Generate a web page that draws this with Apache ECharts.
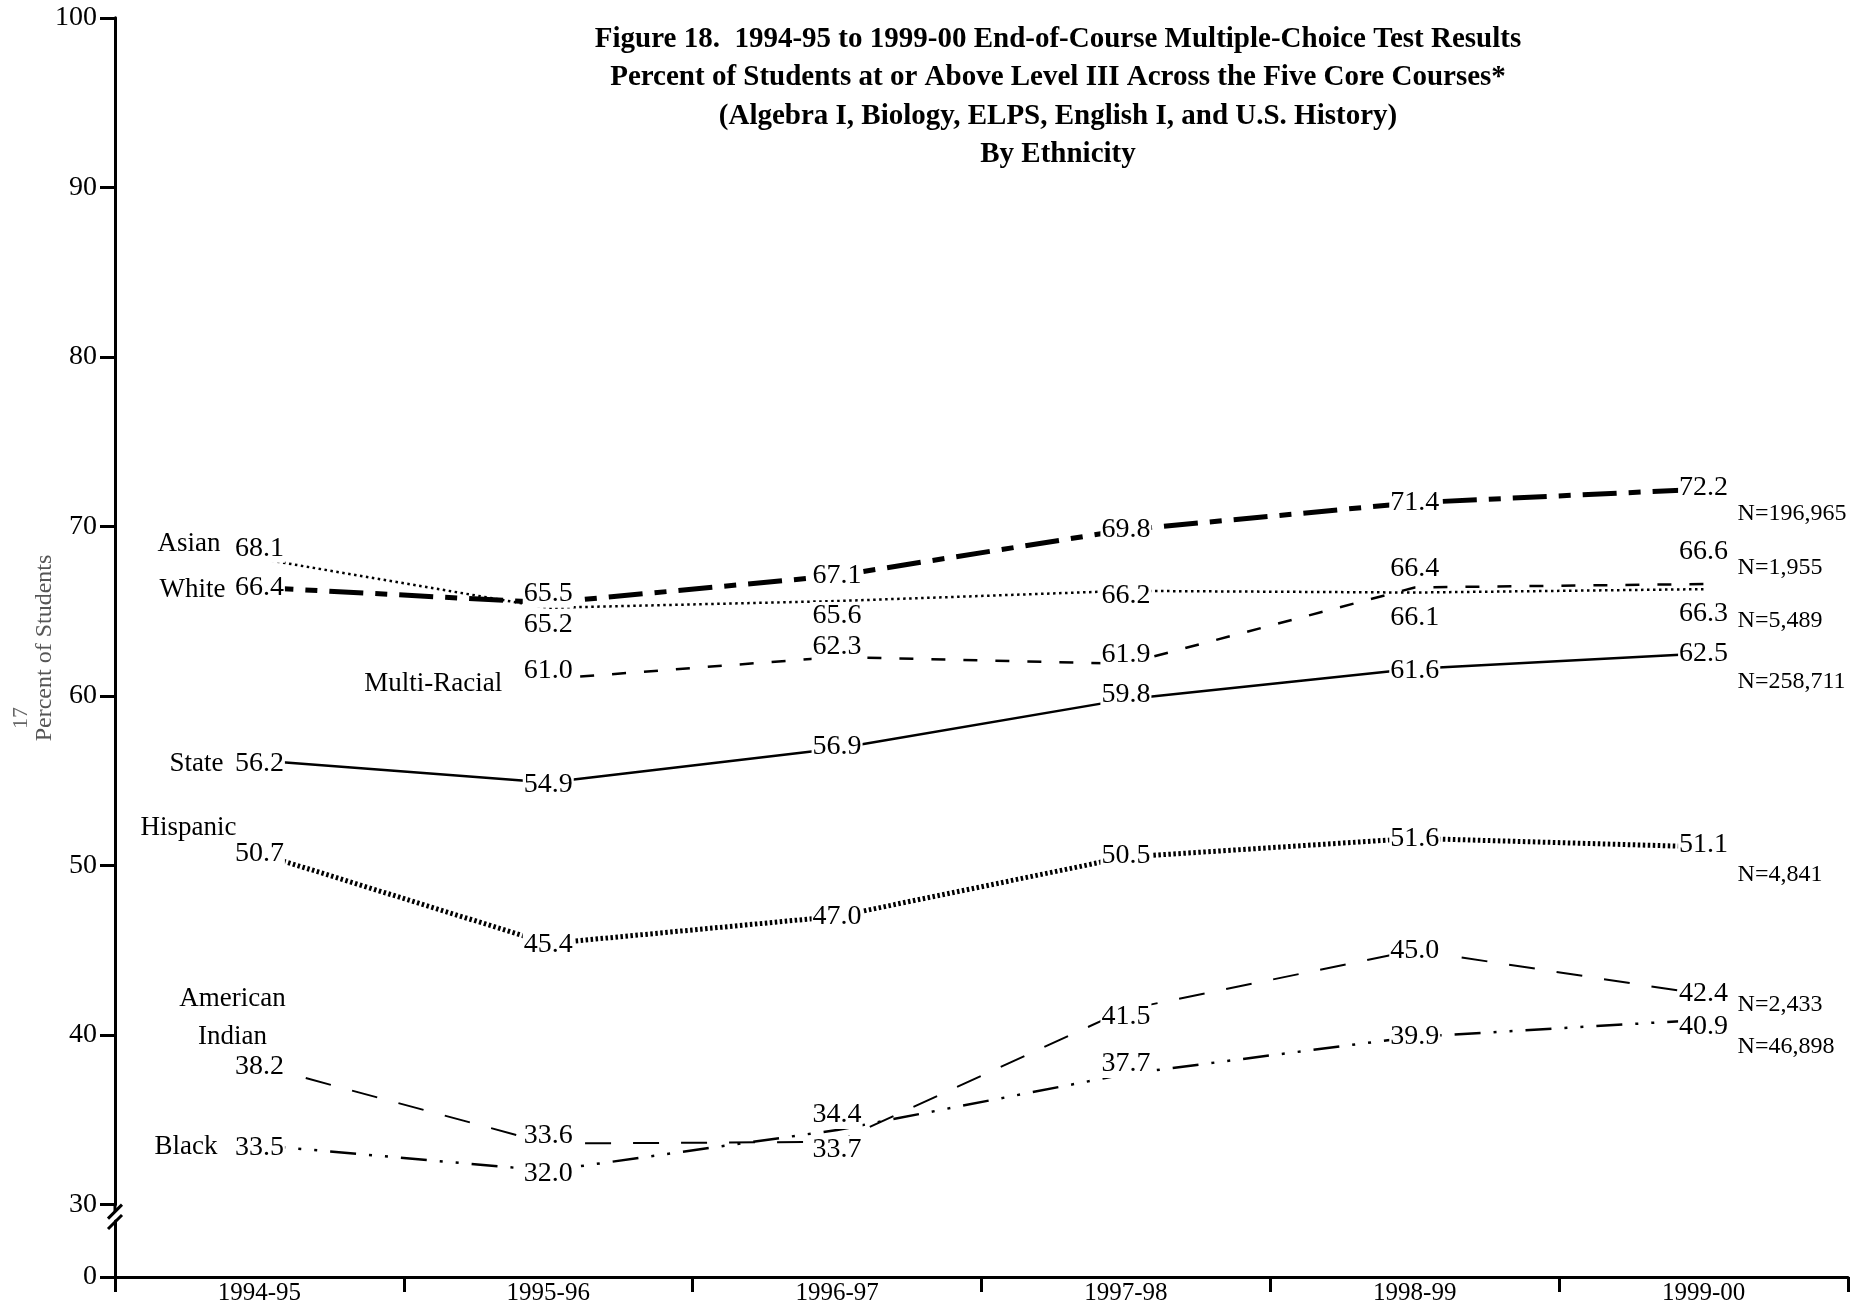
<!DOCTYPE html>
<html><head><meta charset="utf-8">
<script src="https://cdn.jsdelivr.net/npm/echarts@6/dist/echarts.min.js"></script>
<style>html,body{margin:0;padding:0;background:#fff;} #chart{width:1859px;height:1306px;}</style>
</head><body><div id="chart"></div>
<script>
// ---- data ----
const years = ['1994-95', '1995-96', '1996-97', '1997-98', '1998-99', '1999-00'];
const yTickValues = [30, 40, 50, 60, 70, 80, 90, 100];
const lowerTickValues = [0];
const white = [66.4, 65.5, 67.1, 69.8, 71.4, 72.2];
const asian = [68.1, 65.2, 65.6, 66.2, 66.1, 66.3];
const multiRacial = [null, 61.0, 62.3, 61.9, 66.4, 66.6];
const state = [56.2, 54.9, 56.9, 59.8, 61.6, 62.5];
const hispanic = [50.7, 45.4, 47.0, 50.5, 51.6, 51.1];
const americanIndian = [38.2, 33.6, 33.7, 41.5, 45.0, 42.4];
const black = [33.5, 32.0, 34.4, 37.7, 39.9, 40.9];
const groupNames = ['White', 'Asian', 'Multi-Racial', 'State', 'Hispanic', 'American\nIndian', 'Black'];
const nCounts = ['N=196,965', 'N=5,489', 'N=1,955', 'N=258,711', 'N=4,841', 'N=2,433', 'N=46,898'];
const titleLines = [
  'Figure 18.  1994-95 to 1999-00 End-of-Course Multiple-Choice Test Results',
  'Percent of Students at or Above Level III Across the Five Core Courses*',
  '(Algebra I, Biology, ELPS, English I, and U.S. History)',
  'By Ethnicity'
];
const yAxisTitle = 'Percent of Students';
const pageNumber = '17';

// ---- styles / layout ----
const FONT = 'Liberation Serif, Times New Roman, serif';
const seriesValues = [white, asian, multiRacial, state, hispanic, americanIndian, black];
const lineStyles = [
  { width: 5, type: [34, 12, 12, 12] },
  { width: 2.5, type: [2.5, 3.5] },
  { width: 2.5, type: [14, 18] },
  { width: 2.5, type: 'solid' },
  { width: 5, type: [2.5, 2.5] },
  { width: 2, type: [26, 22] },
  { width: 2.5, type: [26, 13, 3, 13, 3, 13] }
];
// vertical label offsets (px) per point
const labelDy = [
  [0, -9, 0, 0, 0, -1],
  [-10, 17, 15, 5, 25, 24],
  [0, -8, -10, -9, -19, -32],
  [3, 2, -2, -5, 2, 0],
  [0, 1, 0, -1, 0, -2],
  [1, -8, 8, 7, 0, -1],
  [2, 3, -15, -10, 0, 7]
];
// name annotation offsets relative to first point: [dx, dy, align]
const nameOffsets = [
  [-34, 2, 'right'], [-39, -15, 'right'], [-46, 5, 'right'], [-36, 4, 'right'],
  [-23, -26, 'right'], [-27, -48, 'center'], [-42, 2, 'right']
];
// N annotation offsets relative to last point: [dx, dy]
const nOffsets = [[34, 25], [34, 32], [34, -16], [34, 28], [34, 28], [34, 10], [34, 27]];

const GRID_LEFT = 115, GRID_RIGHT = 11;
const G1_TOP = 17.8, G1_BOTTOM_Y = 1204.6;
const G2_TOP = 1221, G2_BOTTOM_Y = 1277;
const H = 1306;

const chart = echarts.init(document.getElementById('chart'), null, { renderer: 'canvas' });

const series = seriesValues.map((vals, si) => ({
  type: 'line',
  xAxisIndex: 0, yAxisIndex: 0,
  symbol: 'circle', symbolSize: 1,
  itemStyle: { color: 'rgba(0,0,0,0)' },
  lineStyle: Object.assign({ color: '#000', cap: 'butt' }, lineStyles[si]),
  emphasis: { disabled: true },
  animation: false,
  z: 2,
  data: vals.map((v, i) => ({
    value: v,
    label: { offset: [0, labelDy[si][i]] }
  })),
  label: {
    show: true,
    position: 'inside',
    color: '#000',
    fontFamily: FONT,
    fontSize: 28,
    backgroundColor: '#fff',
    padding: [0, 1],
    formatter: p => (p.value == null ? '' : Number(p.value).toFixed(1))
  }
}));

chart.setOption({
  backgroundColor: '#fff',
  animation: false,
  title: {
    text: titleLines.join('\n'),
    left: 1058, top: 20, padding: 0,
    textAlign: 'center',
    textStyle: { fontFamily: FONT, fontSize: 29, fontWeight: 'bold', color: '#000', lineHeight: 38.5 }
  },
  grid: [
    { left: GRID_LEFT, right: GRID_RIGHT, top: G1_TOP, bottom: H - G1_BOTTOM_Y },
    { left: GRID_LEFT, right: GRID_RIGHT, top: G2_TOP, bottom: H - G2_BOTTOM_Y }
  ],
  xAxis: [
    { type: 'category', gridIndex: 0, data: years, boundaryGap: true, show: false },
    {
      type: 'category', gridIndex: 1, data: years, boundaryGap: true,
      axisLine: { show: true, lineStyle: { color: '#000', width: 3 } },
      axisTick: { show: true, length: 15, lineStyle: { color: '#000', width: 3 } },
      axisLabel: { color: '#000', fontFamily: FONT, fontSize: 25, margin: 4 },
      splitLine: { show: false }
    }
  ],
  yAxis: [
    {
      type: 'value', gridIndex: 0, min: 30, max: 100, interval: 10,
      axisLine: { show: true, lineStyle: { color: '#000', width: 3 } },
      axisTick: { show: true, length: 15, lineStyle: { color: '#000', width: 3 }, customValues: yTickValues },
      axisLabel: { color: '#000', fontFamily: FONT, fontSize: 28, margin: 18, customValues: yTickValues },
      splitLine: { show: false }
    },
    {
      type: 'value', gridIndex: 1, min: 0, max: 10,
      axisLine: { show: true, lineStyle: { color: '#000', width: 3 } },
      axisTick: { show: true, length: 15, lineStyle: { color: '#000', width: 3 }, customValues: lowerTickValues },
      axisLabel: { color: '#000', fontFamily: FONT, fontSize: 28, margin: 18, customValues: lowerTickValues },
      splitLine: { show: false }
    }
  ],
  series: series
});

// ---- annotations positioned through the chart's own scales ----
const graphics = [];
seriesValues.forEach((vals, si) => {
  let first = vals.findIndex(v => v != null);
  let last = vals.length - 1;
  while (vals[last] == null) last--;
  const p0 = chart.convertToPixel({ xAxisIndex: 0, yAxisIndex: 0 }, [first, vals[first]]);
  const p1 = chart.convertToPixel({ xAxisIndex: 0, yAxisIndex: 0 }, [last, vals[last]]);
  const no = nameOffsets[si];
  graphics.push({
    type: 'text', x: p0[0] + no[0], y: p0[1] + no[1], z: 10,
    style: { text: groupNames[si], fontFamily: FONT, fontSize: 27, fill: '#000',
      align: no[2], verticalAlign: 'middle', lineHeight: 38 }
  });
  const nn = nOffsets[si];
  graphics.push({
    type: 'text', x: p1[0] + nn[0], y: p1[1] + nn[1], z: 10,
    style: { text: nCounts[si], fontFamily: FONT, fontSize: 24, fill: '#000',
      align: 'left', verticalAlign: 'middle' }
  });
});
// axis title and page number
graphics.push({
  type: 'text', x: 45, y: 648, rotation: Math.PI / 2, z: 10,
  style: { text: yAxisTitle, fontFamily: FONT, fontSize: 24, fill: '#555', align: 'center', verticalAlign: 'middle' }
});
graphics.push({
  type: 'text', x: 21, y: 718, rotation: Math.PI / 2, z: 10,
  style: { text: pageNumber, fontFamily: FONT, fontSize: 22, fill: '#666', align: 'center', verticalAlign: 'middle' }
});
// axis break marks
const ax = GRID_LEFT;
[[G1_BOTTOM_Y + 7], [G2_TOP + 1]].forEach(([cy]) => {
  graphics.push({
    type: 'line', z: 10,
    shape: { x1: ax - 7, y1: cy + 7, x2: ax + 7, y2: cy - 7 },
    style: { stroke: '#000', lineWidth: 3 }
  });
});
graphics.push({
  type: 'line', z: 9,
  shape: { x1: ax, y1: G1_BOTTOM_Y, x2: ax, y2: G1_BOTTOM_Y + 7 },
  style: { stroke: '#000', lineWidth: 3 }
});
chart.setOption({ graphic: graphics });
</script>
</body></html>
